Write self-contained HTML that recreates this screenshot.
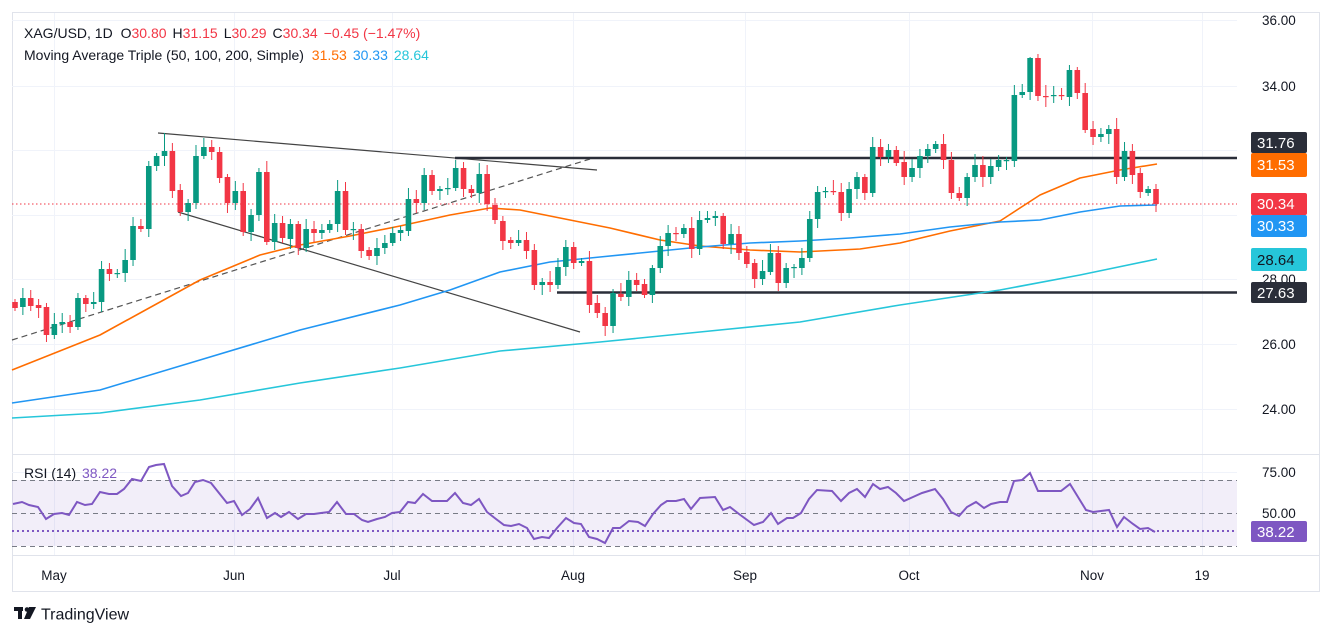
<!DOCTYPE html>
<html><head><meta charset="utf-8">
<style>
html,body{margin:0;padding:0;background:#fff;}
body{width:1332px;height:638px;overflow:hidden;font-family:"Liberation Sans",sans-serif;}
svg text{font-family:"Liberation Sans",sans-serif;}
</style></head>
<body>
<svg id="c" width="1332" height="638" xmlns="http://www.w3.org/2000/svg">
<rect x="12.5" y="12.5" width="1307" height="579" fill="#fff" stroke="#e0e3eb"/>
<g id="grid" stroke="#f0f3fa" stroke-width="1"></g>
<line x1="12" y1="454.5" x2="1320" y2="454.5" stroke="#e0e3eb"/>
<line x1="12" y1="555.5" x2="1320" y2="555.5" stroke="#e0e3eb"/>
<rect x="12" y="480" width="1225" height="66" fill="#7e57c2" fill-opacity="0.1"/>
<g stroke="#787b86" stroke-dasharray="5,4" stroke-width="1">
<line x1="12" y1="480.5" x2="1237" y2="480.5"/>
<line x1="12" y1="513.5" x2="1237" y2="513.5"/>
<line x1="12" y1="546.5" x2="1237" y2="546.5"/>
</g>
<line x1="12" y1="531" x2="1237" y2="531" stroke="#7e57c2" stroke-width="2" stroke-dasharray="2,3"/>
<line x1="12" y1="340" x2="590" y2="159" stroke="#555" stroke-width="1.2" stroke-dasharray="6,4"/>
<line x1="158" y1="133" x2="597" y2="170" stroke="#444" stroke-width="1.2"/>
<line x1="178" y1="212" x2="580" y2="332" stroke="#444" stroke-width="1.2"/>
<line x1="455" y1="158" x2="1237" y2="158" stroke="#2a2e39" stroke-width="2.5"/>
<line x1="557" y1="292.5" x2="1237" y2="292.5" stroke="#2a2e39" stroke-width="2.5"/>
<line x1="12" y1="204" x2="1237" y2="204" stroke="#f23645" stroke-width="1" stroke-dasharray="1.5,2.5"/>
<g id="ma" fill="none" stroke-width="1.6" stroke-linejoin="round"></g>
<g id="candles"></g>
<polyline id="rsi" fill="none" stroke="#7e57c2" stroke-width="2"/>
<g font-size="13.5" fill="#131722">
<text x="1262" y="25">36.00</text>
<text x="1262" y="91">34.00</text>
<text x="1262" y="284">28.00</text>
<text x="1262" y="349">26.00</text>
<text x="1262" y="414">24.00</text>
<text x="1262" y="477">75.00</text>
<text x="1262" y="518">50.00</text>
</g>
<g font-size="15" fill="#fff">
<rect x="1251" y="132" width="56" height="21" rx="2" fill="#2a2e39"/><text x="1257" y="148">31.76</text>
<rect x="1251" y="153" width="56" height="24" rx="2" fill="#ff6d00"/><text x="1257" y="170">31.53</text>
<rect x="1251" y="193" width="56" height="22" rx="2" fill="#f23645"/><text x="1257" y="209">30.34</text>
<rect x="1251" y="215" width="56" height="22" rx="2" fill="#2196f3"/><text x="1257" y="231">30.33</text>
<rect x="1251" y="248" width="56" height="23" rx="2" fill="#26c6da"/><text x="1257" y="265" fill="#131722">28.64</text>
<rect x="1251" y="282" width="56" height="21" rx="2" fill="#2a2e39"/><text x="1257" y="298">27.63</text>
<rect x="1251" y="521" width="56" height="21" rx="2" fill="#7e57c2"/><text x="1257" y="537">38.22</text>
</g>
<g font-size="13.5" fill="#131722" text-anchor="middle">
<text x="54" y="580">May</text><text x="234" y="580">Jun</text><text x="392" y="580">Jul</text>
<text x="573" y="580">Aug</text><text x="745" y="580">Sep</text><text x="909" y="580">Oct</text>
<text x="1092" y="580">Nov</text><text x="1202" y="580">19</text>
</g>
<text x="24" y="38" font-size="14" fill="#131722">XAG/USD, 1D <tspan dx="4">O</tspan><tspan fill="#f23645">30.80</tspan><tspan dx="6">H</tspan><tspan fill="#f23645">31.15</tspan><tspan dx="6">L</tspan><tspan fill="#f23645">30.29</tspan><tspan dx="6">C</tspan><tspan fill="#f23645">30.34</tspan><tspan dx="6" fill="#f23645">−0.45 (−1.47%)</tspan></text>
<text x="24" y="60" font-size="14" fill="#131722">Moving Average Triple (50, 100, 200, Simple) <tspan dx="4" fill="#ff6d00">31.53</tspan><tspan dx="6" fill="#2196f3">30.33</tspan><tspan dx="6" fill="#26c6da">28.64</tspan></text>
<text x="24" y="478" font-size="14" fill="#131722">RSI (14) <tspan dx="2" fill="#7e57c2">38.22</tspan></text>
<g transform="translate(14,607)" fill="#131722">
<rect x="0" y="0" width="9" height="4"/><rect x="4" y="0" width="4" height="12"/>
<circle cx="13" cy="2.5" r="2.3"/><polygon points="15,0 22,0 16,12 10,12"/>
<text x="27" y="12.5" font-size="16">TradingView</text>
</g>
</svg>
<script>
var NS="http://www.w3.org/2000/svg";
function el(t,a,p){var e=document.createElementNS(NS,t);for(var k in a)e.setAttribute(k,a[k]);p.appendChild(e);return e;}
var grid=document.getElementById('grid');
[20,86,150,215,279,344,409,472].forEach(function(y){el('line',{x1:12,x2:1237,y1:y+.5,y2:y+.5},grid);});
[54,234,392,573,745,909,1092,1202].forEach(function(x){el('line',{x1:x+.5,x2:x+.5,y1:13,y2:555},grid);});
var B="302,308,r 298,307,g 298,306,r 305,308,r 307,335,r 324,335,g 322,324,g 322,327,r 298,327,g 298,304,r 302,304,g 269,302,g 269,274,r 273,274,g 260,273,g 226,260,g 226,229,r 166,229,g 156,166,g 151,156,g 151,191,r 190,212,r 203,212,g 156,203,g 147,156,g 147,152,r 152,178,r 177,203,r 191,203,g 191,232,r 215,232,g 172,215,g 172,242,r 223,242,g 223,238,r 224,239,g 224,248,r 229,248,g 229,233,r 230,233,g 224,230,g 191,224,g 191,230,r 229,230,g 229,251,r 250,256,r 248,256,g 243,248,g 233,243,g 230,233,g 199,231,g 199,203,r 175,203,g 175,191,r 189,191,g 188,189,g 168,188,g 168,189,r 189,193,r 174,193,g 174,204,r 205,220,r 221,241,r 240,243,r 240,243,g 240,251,r 250,285,r 282,285,g 282,285,r 267,285,g 247,267,g 247,263,r 261,263,g 261,305,r 303,313,r 313,326,r 293,326,g 294,297,r 280,297,g 280,285,r 284,295,r 268,295,g 246,268,g 233,246,g 233,234,r 228,234,g 228,249,r 220,249,g 218,220,g 216,218,g 216,244,r 234,244,g 234,253,r 252,264,r 263,279,r 271,279,g 253,272,g 253,283,r 268,283,g 267,268,g 258,268,g 219,258,g 192,219,g 191,192,g 191,192,r 192,213,r 189,213,g 177,189,g 177,193,r 147,193,g 147,157,r 150,157,g 150,163,r 162,177,r 168,177,g 156,168,g 149,156,g 144,149,g 144,160,r 160,193,r 193,198,r 177,198,g 165,177,g 165,177,r 166,177,g 160,167,g 160,161,g 95,161,g 92,95,g 58,92,g 58,96,r 96,97,r 95,96,g 95,96,r 70,97,g 70,93,r 93,130,r 129,137,r 134,137,g 129,134,g 129,177,r 151,177,g 151,175,r 173,192,r 189,193,g 189,204,r".split(' ');
var cg=document.getElementById('candles');
B.forEach(function(s,i){var p=s.split(',');var t=+p[0],b=+p[1],c=p[2]=='g'?'#089981':'#f23645';
var x=15+i*(1141/145);var h=t-(3+(i*7)%9),l=b+(3+(i*5)%8);
if(i==19)h=133;if(i==129)h=57;if(i==145)h=184;
el('line',{x1:x,x2:x,y1:h,y2:l,stroke:c,'stroke-width':1},cg);
el('rect',{x:x-2.8,y:t,width:5.6,height:Math.max(1.2,b-t),fill:c},cg);});
var ma=document.getElementById('ma');
function pl(pts,c){el('polyline',{points:pts,stroke:c},ma);}
pl("12,370 100,335 200,280 260,255 300,245 350,236 400,226 450,215 490,208 520,210 560,218 610,228 660,240 700,246 750,250 800,252 860,249 900,243 950,231 1000,221 1040,195 1080,178 1120,170 1157,164","#ff6d00");
pl("12,403 100,390 200,360 300,330 400,305 450,290 500,272 550,262 600,257 650,252 700,247 750,243 800,241 850,238 900,234 950,227 1000,222 1040,220 1080,212 1120,206 1157,205","#2196f3");
pl("12,418 100,413 200,400 300,383 400,368 500,351 600,342 700,332 800,322 900,305 1000,290 1080,275 1157,259","#26c6da");
document.getElementById('rsi').setAttribute('points',"13,504 22,502 29,505 38,507 46,519 54,514 62,513 69,515 77,502 85,505 92,504 100,492 109,494 117,494 124,489 132,479 141,481 149,467 156,465 164,464 172,486 181,496 188,493 195,482 203,480 211,483 219,493 227,503 234,501 242,515 250,509 258,498 267,518 275,513 281,517 289,512 298,519 306,514 314,514 321,513 329,512 337,502 346,514 354,514 362,520 368,522 377,519 385,517 392,513 400,512 408,502 415,503 423,494 432,501 440,501 447,501 455,493 463,503 471,505 479,499 487,512 496,519 504,525 511,526 519,524 527,528 534,539 542,537 549,538 557,528 566,518 574,523 581,524 589,537 597,539 605,543 613,528 620,528 629,521 638,522 645,526 653,514 661,505 667,501 676,501 684,499 691,509 700,498 715,497 723,510 730,507 739,514 754,525 763,522 771,513 778,524 787,518 793,518 801,513 809,499 817,490 832,491 841,501 849,493 857,489 865,497 873,484 880,489 888,487 896,493 904,501 913,497 922,493 935,489 943,499 951,512 959,516 967,507 976,502 984,508 991,504 1000,502 1007,502 1014,481 1022,480 1030,473 1038,491 1061,491 1070,484 1078,497 1086,510 1093,512 1109,510 1117,527 1124,517 1133,524 1140,529 1148,528 1155,532");
</script>
</body></html>
